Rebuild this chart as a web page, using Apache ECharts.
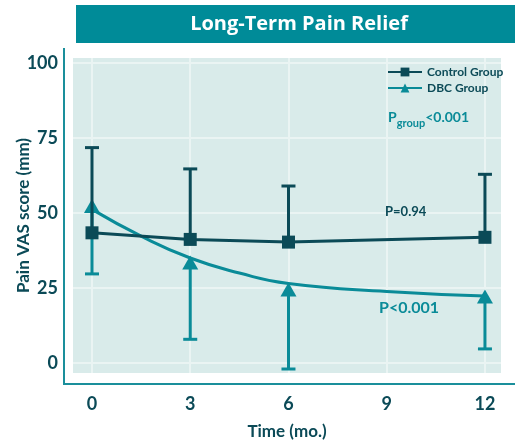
<!DOCTYPE html>
<html>
<head>
<meta charset="utf-8">
<script src="https://cdn.jsdelivr.net/npm/echarts@6/dist/echarts.min.js"></script>
<style>
  html, body { margin: 0; padding: 0; background: #fff; }
  #chart { width: 515px; height: 444px; }
</style>
</head>
<body>
<div id="chart"></div>
<script>
  // values
  const months = [0, 3, 6, 12];
  const controlMean = [43.4, 41.2, 40.3, 41.9];
  const controlUpper = [71.8, 64.7, 59.0, 62.9];
  const dbcMean = [52.3, 33.5, 24.5, 22.2];
  const dbcLower = [29.7, 7.9, -2.0, 4.7];
  // fitted DBC curve
  const dbcFitX = [0, 1.5, 3, 4.5, 6, 9, 12];
  const dbcFitY = [51.2, 42.3, 35.0, 30.0, 26.5, 23.8, 22.3];
  const xTicks = [0, 3, 6, 9, 12];
  const yTicks = [0, 25, 50, 75, 100];

  const dark = '#0b4a57';
  const teal = '#0a8b98';
  const font = 'Lato';

  function errorBar(color) {
    return function (params, api) {
      const x = api.value(0);
      const from = api.coord([x, api.value(1)]);
      const to = api.coord([x, api.value(2)]);
      const half = 7;
      return {
        type: 'group',
        children: [
          { type: 'line', shape: { x1: from[0], y1: from[1], x2: to[0], y2: to[1] }, style: { stroke: color, lineWidth: 3 } },
          { type: 'line', shape: { x1: to[0] - half, y1: to[1], x2: to[0] + half, y2: to[1] }, style: { stroke: color, lineWidth: 3 } }
        ]
      };
    };
  }

  let chart = echarts.init(document.getElementById('chart'));
  chart.setOption({
    animation: false,
    textStyle: { fontFamily: font },
    graphic: [
      { type: 'rect', shape: { x: 76, y: 5, width: 439, height: 38 }, style: { fill: '#008b98' }, z: 0 },
      { type: 'text', x: 299, y: 24, style: { text: 'Long-Term Pain Relief', fill: '#fff', font: 'bold 20px "Open Sans"', align: 'center', verticalAlign: 'middle' } },
      { type: 'polyline', shape: { points: [[64, 48], [64, 384], [515, 384]] }, style: { stroke: '#1a8f9b', lineWidth: 2, fill: null } },
      { type: 'text', x: 388, y: 117, style: {
          text: '{p|P}{s|group}{p|<0.001}',
          rich: {
            p: { fill: teal, font: 'bold 14px Lato' },
            s: { fill: teal, font: 'bold 11px Lato', padding: [13, 0, 0, 0] }
          },
          verticalAlign: 'middle' }, z: 10 },
      { type: 'text', x: 385, y: 212, style: { text: 'P=0.94', fill: dark, font: 'bold 13px Lato', verticalAlign: 'middle' }, z: 10 },
      { type: 'text', x: 379, y: 308, style: { text: 'P<0.001', fill: teal, font: 'bold 16px Lato', verticalAlign: 'middle' }, z: 10 }
    ],
    legend: {
      data: ['Control Group', 'DBC Group'],
      left: 382,
      top: 61,
      orient: 'vertical',
      itemWidth: 34,
      itemHeight: 11,
      itemGap: 4,
      textStyle: { color: dark, fontWeight: 'bold', fontSize: 12, fontFamily: font }
    },
    grid: {
      left: 73, top: 58, width: 428, height: 315,
      outerBoundsMode: 'none',
      containLabel: false,
      show: true, backgroundColor: '#d9ebea', borderWidth: 0
    },
    xAxis: {
      type: 'value',
      min: -0.58, max: 12.49,
      name: 'Time (mo.)',
      nameLocation: 'middle',
      nameGap: 50,
      nameMoveOverlap: false,
      nameTextStyle: { color: dark, fontWeight: 'bold', fontSize: 17 },
      axisLine: { show: false },
      axisTick: { show: false, customValues: xTicks },
      axisLabel: { customValues: xTicks, color: dark, fontWeight: 'bold', fontSize: 18, margin: 22 },
      splitLine: { show: true, lineStyle: { color: '#eaf4f3', width: 2 } }
    },
    yAxis: {
      type: 'value',
      min: -3.33, max: 101.67,
      name: 'Pain VAS score (mm)',
      nameLocation: 'middle',
      nameGap: 41,
      nameMoveOverlap: false,
      nameTextStyle: { color: dark, fontWeight: 'bold', fontSize: 17 },
      axisLine: { show: false },
      axisTick: { show: false, customValues: yTicks },
      axisLabel: { customValues: yTicks, color: dark, fontWeight: 'bold', fontSize: 18, margin: 15 },
      splitLine: { show: true, lineStyle: { color: '#eaf4f3', width: 2 } }
    },
    series: [
      {
        name: 'DBC Group',
        type: 'line',
        smooth: true,
        symbol: 'triangle',
        symbolSize: [15, 13],
        showSymbol: false,
        lineStyle: { color: teal, width: 3 },
        itemStyle: { color: teal },
        data: dbcFitX.map((x, i) => [x, dbcFitY[i]]),
        z: 2
      },
      {
        name: 'DBC err',
        type: 'custom',
        renderItem: errorBar(teal),
        data: months.map((m, i) => [m, dbcMean[i], dbcLower[i]]),
        z: 3
      },
      {
        name: 'DBC points',
        type: 'scatter',
        symbol: 'triangle',
        symbolSize: [16, 14],
        itemStyle: { color: teal, opacity: 1 },
        data: months.map((m, i) => [m, dbcMean[i]]),
        z: 4
      },
      {
        name: 'Control Group',
        type: 'line',
        symbol: 'rect',
        symbolSize: 13,
        lineStyle: { color: dark, width: 3 },
        itemStyle: { color: dark },
        data: months.map((m, i) => [m, controlMean[i]]),
        z: 5
      },
      {
        name: 'Control err',
        type: 'custom',
        renderItem: errorBar(dark),
        data: months.map((m, i) => [m, controlMean[i], controlUpper[i]]),
        z: 5
      }
    ]
  });
</script>
</body>
</html>
